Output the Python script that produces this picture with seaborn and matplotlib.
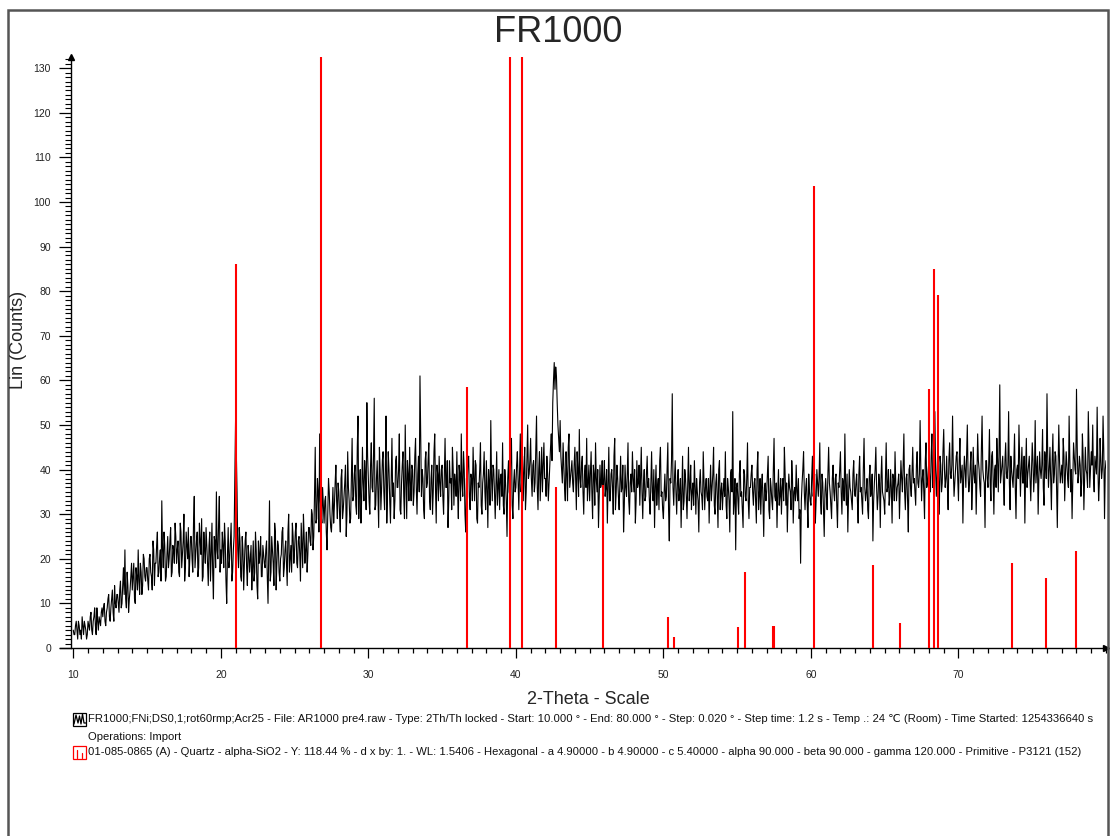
import numpy as np
import pandas as pd
import seaborn as sns
import matplotlib.pyplot as plt
from matplotlib.patches import Rectangle
from matplotlib.lines import Line2D
from matplotlib.ticker import MultipleLocator

# ---------------- data ----------------
# counts at 10.0, 10.1, ... (whole tenths) and at 10.05, 10.15, ... (half steps)
scan_start = 10.0
scan_step = 0.05

counts_10s = [4, 3, 6, 2, 5, 4, 7, 3, 5, 2,
              6, 4, 8, 3, 7, 5, 9, 4, 6, 8,
              7, 10, 5, 9, 12, 6, 11, 8, 14, 9,
              12, 8, 15, 10, 18, 22, 9, 14, 11, 16,
              13, 19, 10, 16, 22, 12, 17, 14, 20, 15,
              18, 13, 21, 16, 24, 14, 19, 26, 17, 22,
              33, 18, 23, 16, 25, 20, 27, 17, 22, 28,
              19, 24, 16, 26, 21, 30, 18, 23, 27, 20,
              25, 17, 34, 21, 26, 18, 24, 29, 16, 22,
              27, 19, 23, 15, 28, 11, 24, 35, 20, 34]
counts_10s_half = [3, 5, 4, 6, 3, 2, 5, 6, 4, 3,
                   5, 7, 4, 6, 9, 3, 6, 7, 5, 9,
                   9, 6, 8, 11, 7, 9, 13, 6, 10, 12,
                   10, 13, 9, 14, 12, 11, 17, 8, 13, 19,
                   16, 11, 18, 13, 15, 19, 12, 21, 16, 18,
                   15, 20, 17, 13, 22, 19, 23, 16, 20, 15,
                   22, 26, 15, 21, 18, 24, 16, 23, 19, 25,
                   22, 17, 28, 18, 24, 15, 26, 20, 16, 25,
                   20, 28, 18, 24, 16, 28, 21, 15, 26, 19,
                   23, 14, 26, 21, 17, 25, 18, 22, 28, 17]
counts_20s = [22, 26, 18, 24, 10, 27, 20, 28, 17, 25,
              51, 35, 18, 24, 15, 22, 19, 26, 14, 21,
              20, 13, 24, 17, 22, 11, 19, 25, 16, 21,
              18, 24, 10, 33, 17, 22, 14, 26, 19, 23,
              15, 21, 27, 18, 24, 14, 30, 20, 17, 25,
              22, 28, 18, 25, 15, 23, 30, 19, 26, 21,
              27, 23, 30, 25, 45, 29, 35, 48, 30, 36,
              28, 34, 22, 38, 30, 26, 36, 32, 41, 29,
              35, 26, 40, 31, 37, 25, 44, 33, 29, 47,
              34, 41, 30, 52, 36, 28, 45, 33, 39, 55]
counts_20s_half = [19, 23, 28, 15, 21, 18, 24, 15, 22, 38,
                   44, 22, 27, 16, 25, 13, 24, 18, 23, 17,
                   23, 18, 15, 26, 14, 24, 21, 16, 23, 19,
                   22, 16, 21, 15, 25, 19, 28, 13, 24, 17,
                   20, 26, 16, 22, 19, 26, 17, 23, 28, 19,
                   26, 19, 24, 21, 28, 18, 25, 22, 17, 27,
                   24, 31, 22, 34, 28, 38, 26, 33, 28, 32,
                   33, 26, 30, 35, 27, 31, 28, 37, 33, 37,
                   30, 38, 29, 34, 41, 30, 36, 28, 38, 33,
                   39, 32, 45, 29, 40, 34, 37, 42, 31, 43]
counts_30s = [38, 30, 46, 35, 56, 32, 42, 27, 40, 36,
              44, 31, 52, 35, 40, 28, 47, 37, 33, 43,
              36, 48, 30, 41, 34, 50, 29, 39, 45, 33,
              40, 35, 47, 30, 43, 61, 34, 38, 29, 44,
              37, 46, 31, 41, 35, 48, 28, 39, 43, 34,
              41, 30, 47, 36, 27, 42, 38, 45, 32, 37,
              44, 29, 39, 48, 34, 40, 26, 37, 43, 31,
              38, 45, 33, 41, 28, 36, 46, 30, 39, 35,
              42, 27, 37, 51, 33, 40, 29, 44, 36, 31,
              39, 46, 30, 37, 25, 42, 34, 47, 29, 40]
counts_30s_half = [33, 41, 36, 43, 31, 38, 34, 45, 31, 42,
                   35, 40, 28, 44, 33, 38, 34, 29, 42, 36,
                   40, 31, 37, 44, 29, 38, 42, 33, 37, 41,
                   32, 43, 36, 39, 35, 47, 40, 31, 42, 36,
                   42, 33, 38, 30, 44, 36, 41, 33, 37, 40,
                   34, 39, 36, 42, 33, 37, 31, 40, 39, 34,
                   35, 41, 33, 37, 44, 30, 38, 42, 34, 39,
                   33, 38, 42, 29, 37, 40, 32, 37, 44, 31,
                   36, 40, 32, 38, 41, 35, 37, 32, 40, 38,
                   34, 32, 40, 33, 38, 35, 43, 32, 37, 35]
counts_40s = [36, 44, 31, 48, 38, 33, 45, 35, 50, 39,
              47, 34, 42, 37, 52, 31, 44, 39, 35, 46,
              38, 43, 33, 41, 48, 55, 64, 63, 55, 47,
              51, 40, 46, 36, 44, 33, 48, 38, 42, 35,
              45, 31, 40, 49, 36, 43, 30, 41, 47, 37,
              33, 44, 29, 39, 46, 35, 27, 41, 37, 32,
              42, 36, 28, 45, 33, 40, 30, 47, 35, 38,
              31, 43, 36, 26, 41, 34, 46, 30, 39, 44,
              35, 28, 42, 37, 32, 45, 29, 40, 34, 43,
              38, 30, 44, 33, 27, 41, 36, 31, 45, 35]
counts_40s_half = [41, 37, 39, 35, 43, 40, 31, 42, 38, 42,
                   38, 41, 35, 44, 36, 40, 33, 45, 41, 38,
                   34, 39, 37, 45, 42, 60, 58, 61, 50, 44,
                   43, 37, 41, 33, 39, 45, 36, 40, 37, 41,
                   38, 44, 34, 38, 41, 35, 39, 36, 33, 41,
                   39, 35, 41, 32, 38, 40, 34, 36, 42, 38,
                   34, 40, 37, 33, 39, 36, 43, 31, 41, 34,
                   37, 35, 41, 32, 36, 39, 33, 37, 35, 38,
                   40, 33, 36, 41, 38, 35, 37, 33, 39, 36,
                   33, 37, 35, 40, 36, 32, 38, 42, 34, 31]
counts_50s = [29, 39, 34, 46, 24, 37, 57, 32, 42, 30,
              40, 35, 27, 43, 33, 38, 29, 45, 36, 31,
              37, 42, 30, 35, 26, 40, 34, 44, 31, 38,
              33, 28, 41, 36, 45, 30, 39, 27, 42, 35,
              31, 38, 44, 29, 36, 26, 40, 53, 33, 22,
              37, 30, 42, 35, 27, 39, 33, 46, 29, 36,
              41, 32, 38, 28, 44, 34, 30, 39, 25, 37,
              35, 43, 29, 36, 31, 47, 33, 27, 40, 34,
              30, 38, 45, 32, 26, 39, 35, 42, 28, 36,
              41, 33, 29, 19, 37, 44, 31, 38, 27, 35]
counts_50s_half = [35, 33, 40, 31, 38, 42, 36, 38, 35, 37,
                   33, 38, 35, 31, 40, 34, 37, 33, 41, 35,
                   32, 36, 38, 33, 37, 35, 31, 37, 36, 34,
                   38, 36, 33, 39, 32, 37, 34, 40, 31, 37,
                   35, 34, 32, 38, 33, 39, 35, 30, 38, 36,
                   33, 39, 34, 31, 40, 34, 38, 33, 36, 39,
                   35, 37, 33, 40, 31, 38, 36, 33, 36, 33,
                   39, 31, 38, 33, 40, 34, 37, 35, 32, 38,
                   36, 33, 39, 37, 34, 36, 31, 38, 35, 33,
                   35, 38, 31, 33, 40, 35, 36, 32, 39, 33]
counts_60s = [32, 43, 36, 28, 40, 34, 46, 30, 37, 25,
              38, 31, 45, 35, 29, 41, 33, 39, 27, 36,
              44, 30, 37, 48, 32, 26, 40, 35, 31, 42,
              34, 39, 28, 43, 36, 30, 47, 33, 38, 29,
              41, 35, 24, 37, 45, 31, 39, 27, 43, 34,
              30, 46, 36, 32, 40, 28, 38, 44, 33, 37,
              29, 42, 35, 48, 31, 39, 26, 41, 34, 45,
              38, 32, 44, 36, 51, 33, 40, 29, 46, 37,
              42, 35, 48, 39, 53, 34, 45, 30, 41, 37,
              49, 36, 43, 31, 46, 38, 52, 34, 40, 44]
counts_60s_half = [38, 34, 39, 33, 37, 38, 33, 39, 31, 35,
                   34, 39, 37, 32, 38, 35, 38, 32, 37, 40,
                   35, 38, 33, 37, 39, 34, 36, 33, 39, 35,
                   37, 33, 39, 35, 33, 40, 36, 35, 31, 38,
                   34, 39, 33, 40, 36, 34, 37, 38, 35, 33,
                   38, 35, 40, 34, 36, 39, 33, 37, 36, 39,
                   36, 38, 41, 35, 38, 33, 40, 36, 39, 37,
                   35, 41, 37, 39, 40, 38, 35, 42, 36, 40,
                   38, 43, 36, 41, 40, 39, 37, 43, 35, 44,
                   40, 38, 36, 42, 39, 41, 40, 37, 43, 38]
counts_70s = [33, 47, 39, 28, 43, 36, 50, 35, 41, 31,
              45, 37, 30, 48, 40, 34, 52, 38, 27, 42,
              36, 49, 33, 44, 30, 41, 47, 35, 59, 39,
              43, 32, 46, 38, 53, 31, 40, 36, 48, 29,
              41, 50, 34, 45, 37, 28, 47, 39, 43, 33,
              46, 35, 51, 40, 30, 44, 38, 49, 32, 42,
              57, 36, 45, 31, 48, 39, 43, 27, 50, 37,
              41, 47, 33, 44, 38, 52, 35, 29, 46, 40,
              58, 37, 43, 34, 48, 31, 45, 39, 53, 36,
              44, 50, 35, 41, 54, 33, 47, 38, 52, 29]
counts_70s_half = [42, 37, 41, 38, 40, 43, 39, 37, 44, 36,
                   39, 41, 38, 42, 36, 44, 40, 37, 42, 38,
                   41, 37, 43, 38, 40, 36, 42, 44, 37, 41,
                   37, 42, 39, 41, 37, 43, 38, 41, 36, 40,
                   38, 42, 40, 37, 43, 39, 36, 41, 38, 40,
                   42, 39, 37, 43, 38, 40, 41, 36, 44, 38,
                   43, 40, 38, 42, 37, 44, 36, 40, 42, 39,
                   37, 43, 39, 41, 36, 42, 40, 38, 43, 39,
                   45, 39, 41, 37, 43, 38, 40, 36, 44, 40,
                   41, 38, 43, 39, 41, 37, 42, 40, 44, 40]
counts_end = [42]

# Quartz reference pattern 01-085-0865 (stick positions / heights)
quartz_pos = [21.05, 26.81, 36.70, 39.60, 40.40, 42.70, 45.90, 50.30, 50.75,
              55.06, 55.50, 57.42, 57.52, 60.20, 64.20, 66.07, 68.00, 68.35,
              68.60, 73.64, 75.95, 77.98]
quartz_int = [86, 150, 58.6, 150, 150, 36.2, 36.5, 6.9, 2.5,
              4.7, 17.0, 4.9, 4.9, 103.6, 18.6, 5.6, 58.0, 85.0,
              79.2, 19.0, 15.7, 21.7]

x_ticks = [10, 20, 30, 40, 50, 60, 70]
y_ticks = list(range(0, 131, 10))

title = "FR1000"
x_label = "2-Theta - Scale"
y_label = "Lin (Counts)"
legend_line1 = ("FR1000;FNi;DS0,1;rot60rmp;Acr25 - File: AR1000 pre4.raw - Type: 2Th/Th locked - "
                "Start: 10.000 \u00b0 - End: 80.000 \u00b0 - Step: 0.020 \u00b0 - Step time: 1.2 s - "
                "Temp .: 24 \u2103 (Room) - Time Started: 1254336640 s")
legend_line2 = "Operations: Import"
legend_line3 = ("01-085-0865 (A) - Quartz - alpha-SiO2 - Y: 118.44 % - d x by: 1. - WL: 1.5406 - "
                "Hexagonal - a 4.90000 - b 4.90000 - c 5.40000 - alpha 90.000 - beta 90.000 - "
                "gamma 120.000 - Primitive - P3121 (152)")

# ---------------- figure ----------------
sns.set_style("white")
plt.rcParams["font.family"] = ["Liberation Sans", "DejaVu Sans"]

full = (counts_10s + counts_20s + counts_30s + counts_40s + counts_50s
        + counts_60s + counts_70s)
half = (counts_10s_half + counts_20s_half + counts_30s_half + counts_40s_half
        + counts_50s_half + counts_60s_half + counts_70s_half)
counts = [v for pair in zip(full, half) for v in pair] + counts_end
two_theta = scan_start + scan_step * np.arange(len(counts))
df = pd.DataFrame({"two_theta": two_theta, "counts": counts})

W, H = 1110, 836
fig = plt.figure(figsize=(W / 100, H / 100), dpi=100)
ax = fig.add_axes([60 / W, (H - 648) / H, (1106 - 60) / W, (648 - 57) / H])
ax.set_facecolor("white")

sns.lineplot(data=df, x="two_theta", y="counts", ax=ax, color="black",
             linewidth=0.8, estimator=None, sort=False, zorder=2)
ax.vlines(quartz_pos, 0, quartz_int, colors="#ff0000", linewidth=1.5, zorder=3)

ax.set_xlim(9.1, 80.0)
ax.set_ylim(0, 132.5)
ax.set_xlabel("")
ax.set_ylabel("")

for s in ["top", "right"]:
    ax.spines[s].set_visible(False)
ax.spines["left"].set_position(("data", 9.85))
ax.spines["left"].set_color("black")
ax.spines["bottom"].set_color("black")
ax.spines["left"].set_linewidth(1.0)
ax.spines["bottom"].set_linewidth(1.0)

ax.set_xticks(x_ticks)
ax.set_xticklabels([str(t) for t in x_ticks])
ax.xaxis.set_minor_locator(MultipleLocator(1))
ax.set_yticks(y_ticks)
ax.set_yticklabels([str(t) for t in y_ticks])
ax.yaxis.set_minor_locator(MultipleLocator(1))

ax.tick_params(which="both", bottom=True, left=True, top=False, right=False)
ax.tick_params(axis="x", which="major", direction="out", length=7.5, width=0.9,
               labelsize=7.5, pad=8, colors="black", labelcolor="#222222")
ax.tick_params(axis="x", which="minor", direction="out", length=3.6, width=0.9, colors="black")
ax.tick_params(axis="y", which="major", direction="out", length=8.5, width=0.9,
               labelsize=7.5, pad=6, colors="black", labelcolor="#222222")
ax.tick_params(axis="y", which="minor", direction="out", length=4.3, width=0.8, colors="black")

# axis arrows
ax.plot([9.85], [1.0], marker="^", color="black", markersize=5,
        transform=ax.get_xaxis_transform(), clip_on=False)
ax.plot([1.0], [0.0], marker=">", color="black", markersize=5,
        transform=ax.get_yaxis_transform(), clip_on=False)

# titles / labels
fig.text(558 / W, 1 - 32 / H, title, ha="center", va="center", fontsize=26)
fig.text(588 / W, 1 - 700 / H, x_label, ha="center", va="center", fontsize=13)
fig.text(19 / W, 1 - 340 / H, y_label, ha="center", va="center", fontsize=13, rotation=90)

# legend text
leg_fs = 8.1
fig.text(88 / W, 1 - 719 / H, legend_line1, ha="left", va="center", fontsize=leg_fs, color="#111111")
fig.text(88 / W, 1 - 737 / H, legend_line2, ha="left", va="center", fontsize=leg_fs, color="#111111")
fig.text(88 / W, 1 - 752 / H, legend_line3, ha="left", va="center", fontsize=leg_fs, color="#111111")

# legend icons
fig.add_artist(Rectangle((73 / W, 1 - 726 / H), 13 / W, 13 / H, transform=fig.transFigure,
                         fill=False, edgecolor="black", linewidth=0.9))
zx = np.array([74, 76, 78, 79.5, 81, 82.5, 84, 86]) / W
zy = 1 - np.array([724, 715, 723, 716, 724, 714, 723, 723]) / H
fig.add_artist(Line2D(zx, zy, transform=fig.transFigure, color="black", linewidth=0.9))
fig.add_artist(Rectangle((73 / W, 1 - 759 / H), 13 / W, 13 / H, transform=fig.transFigure,
                         fill=False, edgecolor="#ff0000", linewidth=0.9))
for px, top in [(77, 750), (82, 753)]:
    fig.add_artist(Line2D([px / W, px / W], [1 - 758 / H, 1 - top / H],
                          transform=fig.transFigure, color="#ff0000", linewidth=0.9))

# outer frame of the figure
fig.add_artist(Rectangle((8 / W, -0.02), 1100 / W, (H - 10) / H + 0.02, transform=fig.transFigure,
                         fill=False, edgecolor="#555555", linewidth=1.8))

fig.savefig("out.png", dpi=100, facecolor="white")
